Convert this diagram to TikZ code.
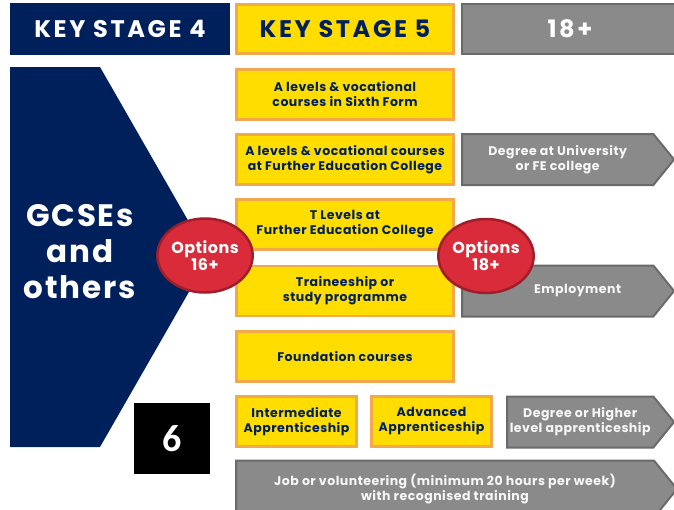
\documentclass[tikz,border=0pt]{standalone}
\usepackage{fontspec}
\setmainfont{Poppins}
\newfontfamily\numfont{Carlito}
\usepackage{xcolor}
\usetikzlibrary{positioning,shapes.geometric,shapes.symbols}
\definecolor{navy}{HTML}{00205C}
\definecolor{ksyellow}{HTML}{FFDD00}
\definecolor{ksorange}{HTML}{F2A94E}
\definecolor{ksgray}{HTML}{8A8A8A}
\definecolor{ksgrayline}{HTML}{6A6A6A}
\definecolor{ksred}{HTML}{D92B3A}
\definecolor{ksredline}{HTML}{9E1F2A}

\begin{document}
\begin{tikzpicture}[x=1pt,y=-1pt]
  \tikzset{header/.style = {shape=rectangle,minimum width=220,minimum height=52,inner sep=0pt,font=\bfseries\fontsize{24}{26}\selectfont\addfontfeatures{LetterSpace=11}}}
  \tikzset{course/.style = {shape=rectangle,draw=ksorange,line width=2.5pt,fill=ksyellow,text=navy,minimum width=217,minimum height=50,inner sep=0pt,align=center,font=\bfseries\fontsize{12.5}{15}\selectfont\addfontfeatures{LetterSpace=4}}}
  \tikzset{route/.style = {shape=signal,signal to=east,signal pointer angle=102,draw=ksgrayline,line width=2pt,fill=ksgray,text=white!94!gray,minimum height=51,inner sep=0pt,anchor=west,align=center,font=\bfseries\fontsize{12.5}{15}\selectfont\addfontfeatures{LetterSpace=4}}}
  \tikzset{options/.style = {shape=ellipse,draw=ksredline,line width=2.5pt,fill=ksred,text=white,minimum width=82,minimum height=74,inner sep=0pt,align=center,font=\bfseries\fontsize{16}{17}\selectfont\addfontfeatures{LetterSpace=3}}}

  \useasboundingbox (0,0) rectangle (674,509);
  \clip (0,0) rectangle (674,509);

  \node[header,fill=navy,text=white] (KSF) at (120,29) {KEY STAGE 4};
  \node[header,fill=ksyellow,draw=ksorange,line width=2.5pt,text=navy,minimum width=217,minimum height=49] (KSV) at (345,29) {KEY STAGE 5};
  \node[header,fill=ksgray,draw=ksgrayline,line width=2pt,text=white,minimum width=216,minimum height=50] (EP) at (570,29) {18+};

  % key stage 4 block
  \fill[navy] (10,67) -- (100,67) -- (209,257) -- (100,447) -- (10,447) -- cycle;
  \node[text=white,align=center,font=\bfseries\fontsize{31}{36}\selectfont\addfontfeatures{LetterSpace=6}] (GC) at (80,252) {GCSEs\\and\\others};

  \node[course] (SF) at (345,94.5) {A levels \& vocational\\courses in Sixth Form};
  \node[course] (FE) at (345,159.5) {A levels \& vocational courses\\at Further Education College};
  \node[course] (TL) at (345,224.5) {T Levels at\\Further Education College};
  \node[course] (TS) at (345,291) {Traineeship or\\study programme};
  \node[course] (FC) at (345,356.5) {Foundation courses};
  \node[course,minimum width=120] (IA) at (296.5,421.5) {Intermediate\\Apprenticeship};
  \node[course,minimum width=120] (AA) at (431.5,421.5) {Advanced\\Apprenticeship};

  \node[route,minimum width=212] (DU) at (461,159.5) {Degree at University\\or FE college};
  \node[route,minimum width=212] (EM) at (461,291) {\hspace*{40pt}Employment};
  \node[route,minimum width=167] (DH) at (506,422) {Degree or Higher\\level apprenticeship};
  \node[route,minimum width=441,minimum height=57] (JV) at (235,489) {Job or volunteering (minimum 20 hours per week)\\with recognised training};

  \node[fill=black,text=white,minimum width=76,minimum height=71,inner sep=0pt,font=\numfont\bfseries\fontsize{38}{38}\selectfont] (SX) at (172,438.5) {6};

  \node[options] (OS) at (205,255.5) {Options\\16+};
  \node[options] (OE) at (486,256) {Options\\18+};
\end{tikzpicture}
\end{document}
